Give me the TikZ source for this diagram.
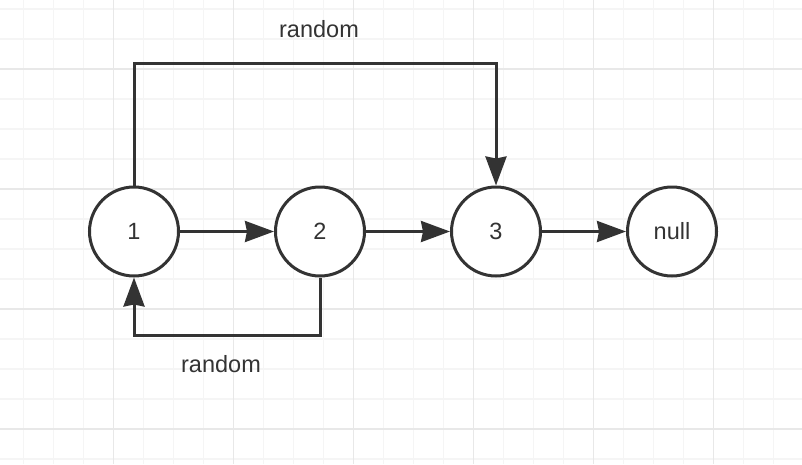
\documentclass[tikz,border=0pt]{standalone}
\usepackage{fontspec}
\setmainfont{Liberation Sans}
\usetikzlibrary{arrows.meta}

\begin{document}
\begin{tikzpicture}[
        x=1pt, y=-1pt,
        font=\fontsize{23.5}{28}\selectfont,
        minor/.style={draw=black!4, line width=1.6pt},
        major/.style={draw=black!9, line width=1.6pt},
        listnode/.style={circle, draw=black!80, line width=3pt, fill=white,
            minimum size=89pt, inner sep=0pt, text=black!80},
        link/.style={draw=black!80, line width=3pt,
            -{Stealth[length=29pt, width=21pt, inset=2pt]}},
        tag/.style={anchor=base, text=black!80}
    ]
        \useasboundingbox (0,0) rectangle (802,464);
        \fill[white] (0,0) rectangle (802,464);
        % grid
        \begin{scope}
            \clip (0,0) rectangle (802,464);
            \foreach \gx in {0,...,26} {
                \draw[minor] ({23.3+30*\gx},0) -- ({23.3+30*\gx},464);
            }
            \foreach \gy in {0,...,15} {
                \draw[minor] (0,{9+30*\gy}) -- (802,{9+30*\gy});
            }
            \foreach \gx in {0,...,6} {
                \draw[major] ({113.3+120*\gx},0) -- ({113.3+120*\gx},464);
            }
            \foreach \gy in {0,...,3} {
                \draw[major] (0,{69+120*\gy}) -- (802,{69+120*\gy});
            }
        \end{scope}
        % list
        \node[listnode] (one) at (134,231.5) {1};
        \node[listnode] (two) at (320,231.5) {2};
        \node[listnode] (three) at (496,231.5) {3};
        \node[listnode] (null) at (672,231.5) {null};
        \draw[link] (one) -- (two);
        \draw[link] (two) -- (three);
        \draw[link] (three) -- (null);
        % random pointers
        \draw[link] (one.north) -- ++(0,-122) -| (three.north);
        \draw[link] (two.south) -- ++(0,58) -| (one.south);
        \node[tag] (toprandom) at (319,37.7) {random};
        \node[tag] (botrandom) at (221,372.7) {random};
    \end{tikzpicture}
\end{document}
